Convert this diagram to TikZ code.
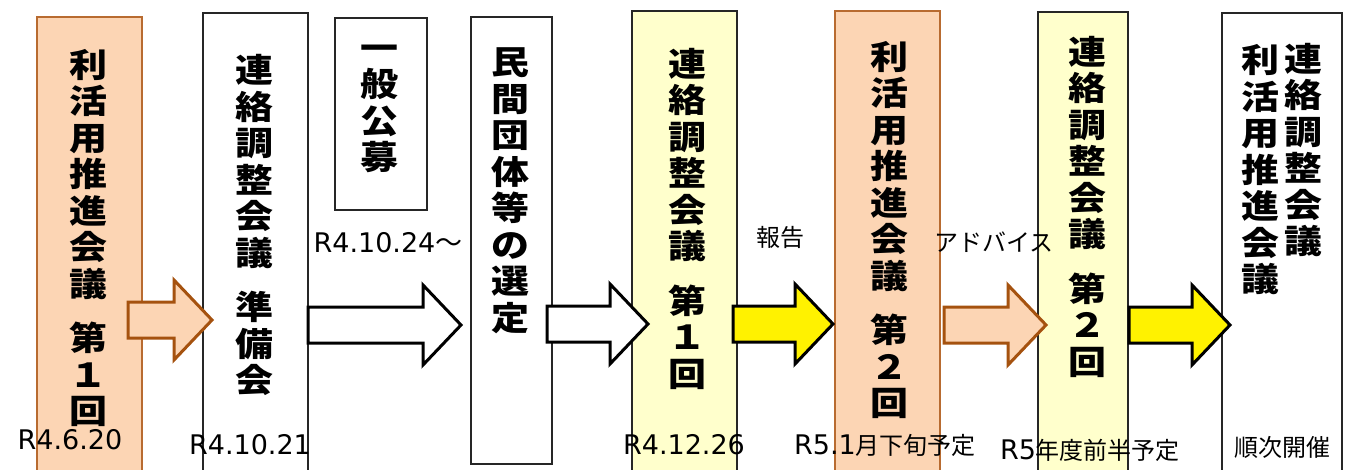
\documentclass[tikz,border=0pt]{standalone}
\usepackage{fontspec}
\setmainfont{DejaVu Sans}
\newfontfamily\jp{Noto Sans CJK JP}
\newfontfamily\jpwide{Noto Sans CJK JP}[FakeStretch=1.15]
\usetikzlibrary{calc}
\definecolor{peach}{HTML}{FCD5B4}
\definecolor{peachline}{HTML}{B86B30}
\definecolor{peacharrowline}{HTML}{A5520F}
\definecolor{paleyellow}{HTML}{FFFFCC}
\newcommand{\blockarrow}[3]{\draw[#1] ($(#2)+(0,-18)$) -- ($(#3)+(-38,-18)$) -- ($(#3)+(-38,-40)$) -- (#3) -- ($(#3)+(-38,40)$) -- ($(#3)+(-38,18)$) -- ($(#2)+(0,18)$) -- cycle;}

\begin{document}
\begin{tikzpicture}[x=1pt,y=-1pt,
	peachbox/.style={rectangle,draw=peachline,fill=peach,line width=1.5pt,inner sep=0pt},
	yellowbox/.style={rectangle,draw=black!85,fill=paleyellow,line width=1.5pt,inner sep=0pt},
	whitebox/.style={rectangle,draw=black!85,fill=white,line width=1.5pt,inner sep=0pt},
	boxtext/.style={inner sep=0pt,align=center,font=\jpwide\bfseries\fontsize{33}{36.5}\selectfont},
	datetext/.style={inner sep=0pt,font=\fontsize{27}{27}\selectfont},
	notetext/.style={inner sep=0pt,font=\jp\fontsize{24}{24}\selectfont},
	peacharrow/.style={draw=peacharrowline,fill=peach,line width=3pt},
	yellowarrow/.style={draw=black,fill=yellow,line width=3pt},
	whitearrow/.style={draw=black,fill=white,line width=3pt}]
	\useasboundingbox (0,0) rectangle (1346,470);
	\node[peachbox,minimum width=105,minimum height=463] (r1) at (89.5,248.5) {};
	\node[whitebox,minimum width=105,minimum height=467] (j0) at (255.5,246.5) {};
	\node[whitebox,minimum width=92,minimum height=192] (koubo) at (381,114) {};
	\node[whitebox,minimum width=81,minimum height=447] (sentei) at (511.5,240.5) {};
	\node[yellowbox,minimum width=105,minimum height=469] (j1) at (684.5,245.5) {};
	\node[peachbox,minimum width=105,minimum height=469] (r2) at (887.5,245.5) {};
	\node[yellowbox,minimum width=90,minimum height=468] (j2) at (1083,246) {};
	\node[whitebox,minimum width=120,minimum height=467] (junji) at (1282,246.5) {};
	\node[boxtext] (r1t) at (88,238) {利\\活\\用\\推\\進\\会\\議\\[18pt]第\\１\\回};
	\node[boxtext] (j0t) at (254,225) {連\\絡\\調\\整\\会\\議\\[18pt]準\\備\\会};
	\node[boxtext] (koubot) at (379,109) {一\\般\\公\\募};
	\node[boxtext] (senteit) at (510,191) {民\\間\\団\\体\\等\\の\\選\\定};
	\node[boxtext] (j1t) at (687,218.5) {連\\絡\\調\\整\\会\\議\\[18pt]第\\１\\回};
	\node[boxtext] (r2t) at (889,230) {利\\活\\用\\推\\進\\会\\議\\[18pt]第\\２\\回};
	\node[boxtext] (j2t) at (1087,206.5) {連\\絡\\調\\整\\会\\議\\[18pt]第\\２\\回};
	\node[boxtext] (junjia) at (1303,150) {連\\絡\\調\\整\\会\\議};
	\node[boxtext] (junjib) at (1260,170) {利\\活\\用\\推\\進\\会\\議};
	\coordinate (a1s) at (128,320);
	\coordinate (a1e) at (212,320);
	\coordinate (a2s) at (308,325);
	\coordinate (a2e) at (461,325);
	\coordinate (a3s) at (547,324);
	\coordinate (a3e) at (648,324);
	\coordinate (a4s) at (733,324);
	\coordinate (a4e) at (833,324);
	\coordinate (a5s) at (944,325);
	\coordinate (a5e) at (1046,325);
	\coordinate (a6s) at (1129,325);
	\coordinate (a6e) at (1230,325);
	\blockarrow{peacharrow}{a1s}{a1e}
	\blockarrow{whitearrow}{a2s}{a2e}
	\blockarrow{whitearrow}{a3s}{a3e}
	\blockarrow{yellowarrow}{a4s}{a4e}
	\blockarrow{peacharrow}{a5s}{a5e}
	\blockarrow{yellowarrow}{a6s}{a6e}
	\node[datetext] (d1) at (70,440) {R4.6.20};
	\node[datetext] (d2) at (250,445) {R4.10.21};
	\node[datetext] (d3) at (388,243) {R4.10.24{\jp ～}};
	\node[notetext] (houkoku) at (780,237) {報告};
	\node[datetext] (d4) at (684,445) {R4.12.26};
	\node[datetext] (d5) at (885,445) {R5.1{\jp\fontsize{24}{24}\selectfont 月下旬予定}};
	\node[notetext] (advice) at (994,242) {アドバイス};
	\node[datetext] (d6) at (1090,450) {R5{\jp\fontsize{24}{24}\selectfont 年度前半予定}};
	\node[notetext] (d7) at (1282,447) {順次開催};
\end{tikzpicture}
\end{document}
